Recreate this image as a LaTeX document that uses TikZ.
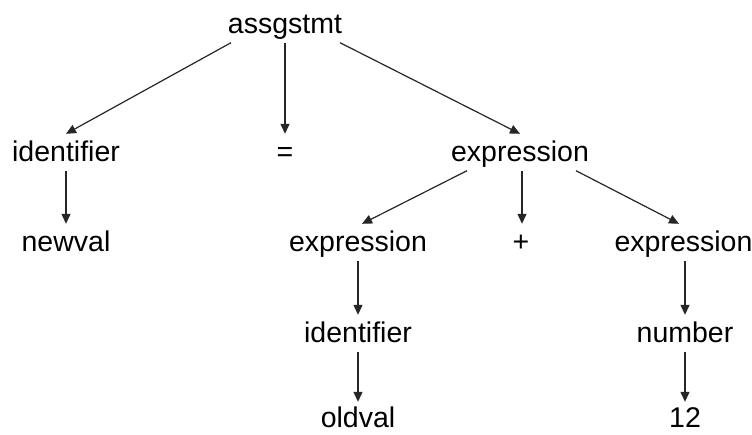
\documentclass[tikz,border=0pt]{standalone}
\usepackage{fontspec}
\setmainfont{Liberation Sans}
\usetikzlibrary{arrows.meta}
\begin{document}
\begin{tikzpicture}[x=1pt,y=-1pt,
  lbl/.style={anchor=base, font=\fontsize{28.5}{30}\selectfont,
    text height=20.5pt, text depth=3pt, inner xsep=0pt, inner ysep=6.5pt},
  leaf/.style={lbl, text height=22pt, text depth=0pt, inner ysep=3pt},
  edge/.style={-{Triangle[length=10pt,width=9pt]}, line width=1.2pt, black!85}]
\useasboundingbox (0,0) rectangle (752,434);
% parse tree nodes (baseline positions)
\node[lbl] (root) at (285,33)  {assgstmt};
\node[lbl] (id1)  at (66,161)  {identifier};
\node[lbl] (eq)   at (285,161) {=};
\node[lbl] (ex1)  at (520,161) {expression};
\node[lbl] (nv)   at (66,251)  {newval};
\node[lbl] (ex2)  at (358,251) {expression};
\node[lbl] (plus) at (521,251) {+};
\node[lbl] (ex3)  at (683.5,251) {expression};
\node[lbl] (id2)  at (358,342) {identifier};
\node[lbl] (num)  at (685,342) {number};
\node[leaf] (ov)   at (358,427) {oldval};
\node[leaf] (twelve) at (685,427) {12};
% connectors
\draw[edge] ([xshift=-54pt]root.south) -- (id1.north);
\draw[edge] (root.south) -- (eq.north);
\draw[edge] ([xshift=55pt]root.south) -- (ex1.north);
\draw[edge] (id1.south) -- (nv.north);
\draw[edge] ([xshift=-53pt]ex1.south) -- ([xshift=4pt]ex2.north);
\draw[edge] ([xshift=2pt]ex1.south) -- ([xshift=1pt]plus.north);
\draw[edge] ([xshift=56pt]ex1.south) -- ([xshift=-4.5pt]ex3.north);
\draw[edge] (ex2.south) -- (id2.north);
\draw[edge] (id2.south) -- (ov.north);
\draw[edge] ([xshift=1.5pt]ex3.south) -- (num.north);
\draw[edge] (num.south) -- (twelve.north);
\end{tikzpicture}
\end{document}
